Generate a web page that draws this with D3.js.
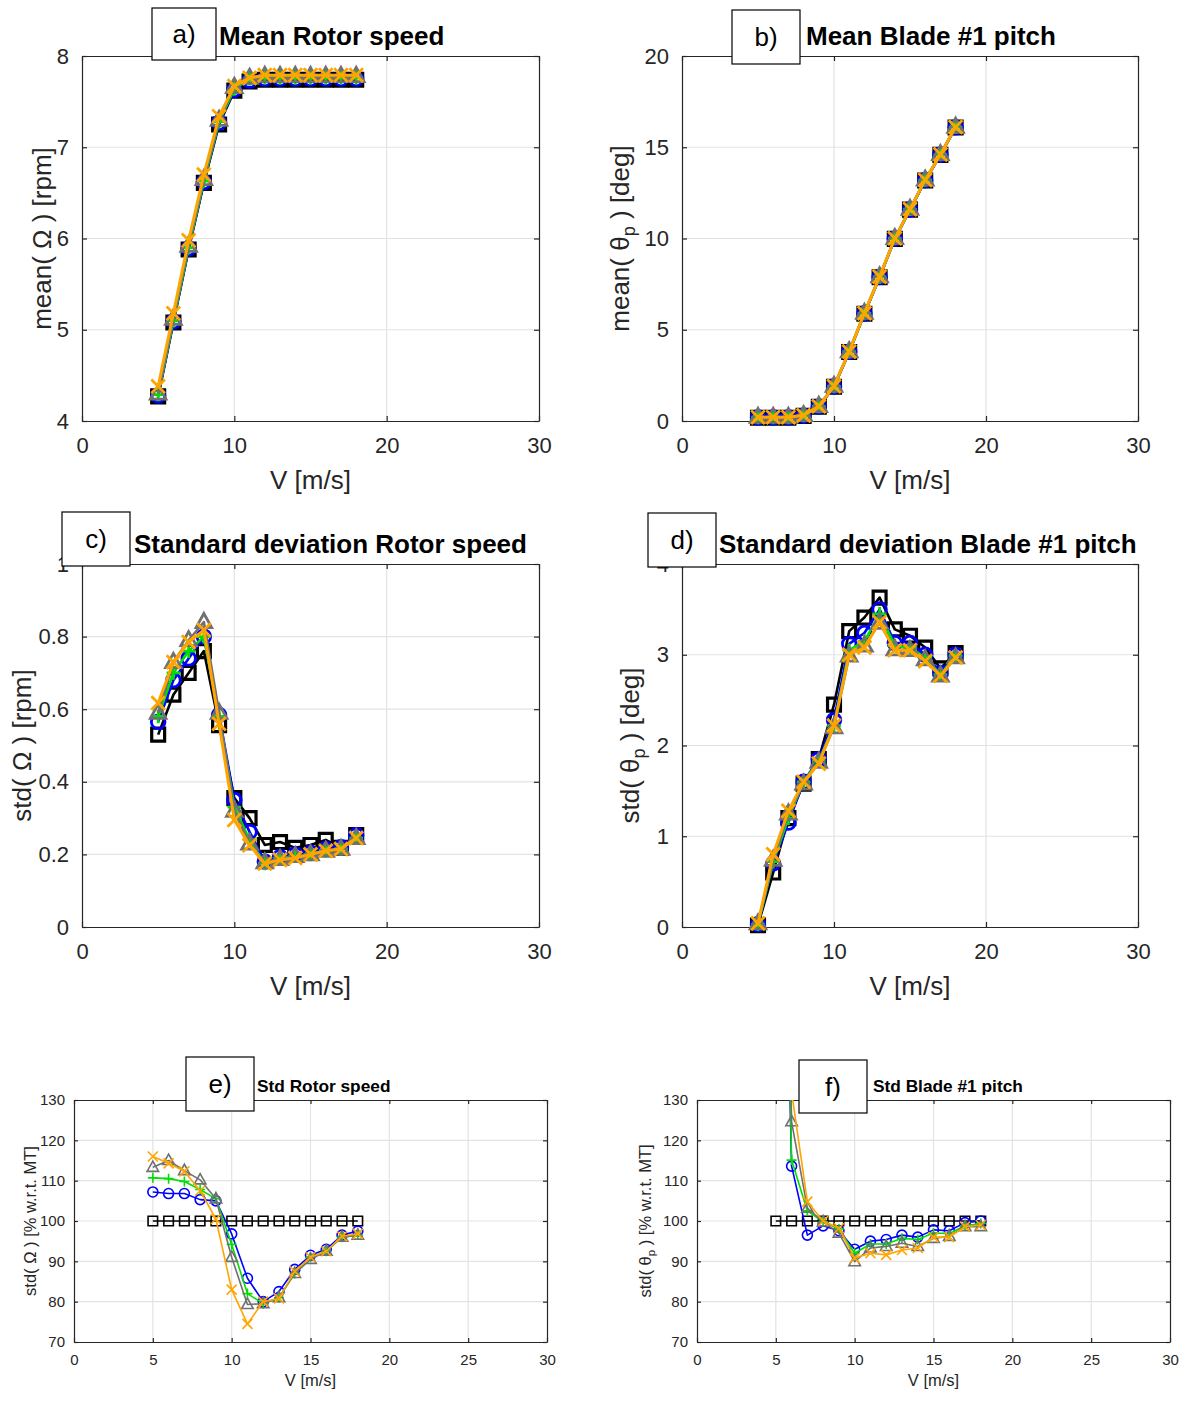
<!DOCTYPE html>
<html><head><meta charset="utf-8">
<script src="https://cdn.jsdelivr.net/npm/d3@7/dist/d3.min.js"></script>
<style>
body{margin:0;background:#fff}
svg{display:block}
text{font-family:"Liberation Sans",Arial,Helvetica,sans-serif}
</style>
</head><body>
<svg id="fig" width="1185" height="1404"></svg>
<script>
// ---------- DATA ----------
const windSpeed = [5,6,7,8,9,10,11,12,13,14,15,16,17,18];
const seriesKeys = ["MT","blue","green","gray","orange"];

// a) Mean rotor speed [rpm]
const meanRotor_MT     = [4.27,5.08,5.88,6.61,7.25,7.62,7.72,7.74,7.74,7.74,7.74,7.74,7.74,7.74];
const meanRotor_blue   = [4.28,5.09,5.89,6.62,7.27,7.63,7.73,7.75,7.75,7.75,7.75,7.75,7.75,7.75];
const meanRotor_green  = [4.29,5.10,5.90,6.63,7.28,7.64,7.75,7.76,7.76,7.76,7.76,7.76,7.76,7.76];
const meanRotor_gray   = [4.30,5.12,5.92,6.65,7.30,7.66,7.76,7.78,7.78,7.78,7.78,7.78,7.78,7.78];
const meanRotor_orange = [4.38,5.18,5.98,6.70,7.34,7.67,7.76,7.79,7.79,7.79,7.79,7.79,7.79,7.79];

// b) Mean blade #1 pitch [deg]
const meanPitch_MT     = [0.18,0.18,0.18,0.28,0.78,1.88,3.78,5.88,7.88,9.98,11.58,13.18,14.58,16.08];
const meanPitch_blue   = [0.19,0.19,0.19,0.29,0.79,1.89,3.79,5.89,7.89,9.99,11.59,13.19,14.59,16.09];
const meanPitch_green  = [0.20,0.20,0.20,0.30,0.80,1.90,3.80,5.90,7.90,10.00,11.60,13.20,14.60,16.10];
const meanPitch_gray   = [0.22,0.22,0.22,0.32,0.82,1.92,3.82,5.92,7.92,10.02,11.62,13.22,14.62,16.12];
const meanPitch_orange = [0.21,0.21,0.21,0.31,0.81,1.91,3.81,5.91,7.91,10.01,11.61,13.21,14.61,16.11];

// c) Std rotor speed [rpm]
const stdRotor_MT     = [0.53,0.64,0.70,0.76,0.556,0.355,0.30,0.226,0.234,0.218,0.226,0.24,0.218,0.253];
const stdRotor_blue   = [0.565,0.68,0.74,0.80,0.584,0.35,0.262,0.18,0.193,0.20,0.205,0.215,0.22,0.253];
const stdRotor_green  = [0.58,0.70,0.76,0.80,0.58,0.33,0.24,0.175,0.19,0.195,0.20,0.21,0.215,0.245];
const stdRotor_gray   = [0.59,0.73,0.79,0.84,0.59,0.32,0.23,0.178,0.187,0.195,0.20,0.21,0.215,0.245];
const stdRotor_orange = [0.617,0.73,0.785,0.818,0.56,0.295,0.225,0.175,0.185,0.19,0.20,0.21,0.215,0.245];

// d) Std blade #1 pitch [deg]
const stdPitch_MT     = [0.02,0.60,1.20,1.58,1.85,2.45,3.26,3.41,3.63,3.28,3.21,3.08,2.85,3.02];
const stdPitch_blue   = [0.03,0.70,1.15,1.60,1.85,2.28,3.12,3.24,3.50,3.13,3.13,3.00,2.80,3.00];
const stdPitch_green  = [0.03,0.72,1.20,1.60,1.83,2.22,3.05,3.15,3.45,3.10,3.08,2.97,2.78,2.99];
const stdPitch_gray   = [0.04,0.74,1.25,1.58,1.82,2.20,2.99,3.10,3.35,3.06,3.05,2.95,2.77,2.97];
const stdPitch_orange = [0.04,0.80,1.28,1.60,1.80,2.22,3.00,3.08,3.36,3.05,3.05,2.93,2.77,2.97];

// e) Std rotor speed [% w.r.t. MT]
const relRotor_MT     = [100,100,100,100,100,100,100,100,100,100,100,100,100,100];
const relRotor_blue   = [107.2,106.8,106.8,105.3,105.0,96.8,85.8,80.0,82.5,88.0,91.5,93.0,96.5,97.5];
const relRotor_green  = [110.7,110.5,109.8,107.8,105.5,94.2,82.0,79.5,81.0,87.0,91.0,92.5,96.0,96.5];
const relRotor_gray   = [113.3,115.0,112.5,110.2,105.5,91.0,79.3,79.5,81.0,87.0,90.5,92.5,96.0,96.5];
const relRotor_orange = [116.0,114.3,112.3,107.5,100.5,83.0,74.5,80.0,80.8,87.5,91.0,92.5,96.2,96.8];

// f) Std blade #1 pitch [% w.r.t. MT]
const relPitch_MT     = [100,100,100,100,100,100,100,100,100,100,100,100,100,100];
const relPitch_blue   = [280,113.6,96.5,98.8,97.6,93.0,95.0,95.4,96.5,96.0,97.8,97.6,99.6,100.0];
const relPitch_green  = [300,115.1,102.5,99.8,98.0,92.0,94.3,94.3,95.7,95.4,97.0,96.9,98.8,99.4];
const relPitch_gray   = [320,124.6,103.2,99.8,97.0,89.9,93.3,93.7,94.5,93.7,95.7,96.2,98.6,98.6];
const relPitch_orange = [340,132.0,104.8,100.0,98.2,90.8,92.0,91.6,92.8,93.3,96.0,96.0,98.6,99.0];

// axis ticks
const xTicksBig   = [0,10,20,30];
const xTicksSmall = [0,5,10,15,20,25,30];
const yTicksA = [4,5,6,7,8];
const yTicksB = [0,5,10,15,20];
const yTicksC = [0,0.2,0.4,0.6,0.8,1];
const yTicksD = [0,1,2,3,4];
const yTicksEF = [70,80,90,100,110,120,130];

// ---------- STYLE ----------
const seriesStyle = {
  MT:    {color:"#000000", marker:"square"},
  blue:  {color:"#0000ff", marker:"circle"},
  green: {color:"#00e000", marker:"plus"},
  gray:  {color:"#707070", marker:"triangle"},
  orange:{color:"#ffa500", marker:"x"}
};

function markerPath(type, r){
  switch(type){
    case "square": return `M${-r},${-r}h${2*r}v${2*r}h${-2*r}Z`;
    case "circle": return `M${r},0A${r},${r},0,1,1,${-r},0A${r},${r},0,1,1,${r},0Z`;
    case "plus": return `M${-r},0H${r}M0,${-r}V${r}`;
    case "triangle": return `M0,${-r*1.1}L${r},${r*0.7}L${-r},${r*0.7}Z`;
    case "x": return `M${-r},${-r}L${r},${r}M${-r},${r}L${r},${-r}`;
  }
}

const svg = d3.select("#fig");
const defs = svg.append("defs");

const panels = [
  {id:"a", box:[82,539,56,421], ydom:[4,8], yt:yTicksA, xt:xTicksBig, fmt:d3.format("d"),
   data:{MT:meanRotor_MT,blue:meanRotor_blue,green:meanRotor_green,gray:meanRotor_gray,orange:meanRotor_orange},
   big:true, ylabel:["mean( Ω ) [rpm]"], ylx:42,
   tag:{x:152,y:8,w:64,h:52,t:"a)"}, title:{x:219,y:45,t:"Mean Rotor speed"}},
  {id:"b", box:[682,1138,56,421], ydom:[0,20], yt:yTicksB, xt:xTicksBig, fmt:d3.format("d"),
   data:{MT:meanPitch_MT,blue:meanPitch_blue,green:meanPitch_green,gray:meanPitch_gray,orange:meanPitch_orange},
   big:true, ylabel:["mean( θ","p"," ) [deg]"], ylx:620,
   tag:{x:732,y:10,w:68,h:54,t:"b)"}, title:{x:806,y:45,t:"Mean Blade #1 pitch"}},
  {id:"c", box:[82,539,564,927], ydom:[0,1], yt:yTicksC, xt:xTicksBig, fmt:d3.format("~g"),
   data:{MT:stdRotor_MT,blue:stdRotor_blue,green:stdRotor_green,gray:stdRotor_gray,orange:stdRotor_orange},
   big:true, ylabel:["std( Ω ) [rpm]"], ylx:22,
   tag:{x:62,y:512,w:68,h:54,t:"c)"}, title:{x:134,y:553,t:"Standard deviation Rotor speed"}},
  {id:"d", box:[682,1138,564,927], ydom:[0,4], yt:yTicksD, xt:xTicksBig, fmt:d3.format("d"),
   data:{MT:stdPitch_MT,blue:stdPitch_blue,green:stdPitch_green,gray:stdPitch_gray,orange:stdPitch_orange},
   big:true, ylabel:["std( θ","p"," ) [deg]"], ylx:630,
   tag:{x:648,y:513,w:68,h:54,t:"d)"}, title:{x:719,y:553,t:"Standard deviation Blade #1 pitch"}},
  {id:"e", box:[74,547,1100,1342], ydom:[70,130], yt:yTicksEF, xt:xTicksSmall, fmt:d3.format("d"),
   data:{MT:relRotor_MT,blue:relRotor_blue,green:relRotor_green,gray:relRotor_gray,orange:relRotor_orange},
   big:false, ylabel:["std( Ω ) [% w.r.t. MT]"], ylx:30,
   tag:{x:186,y:1057,w:68,h:54,t:"e)"}, title:{x:257,y:1092,t:"Std Rotor speed"}},
  {id:"f", box:[697,1170,1100,1342], ydom:[70,130], yt:yTicksEF, xt:xTicksSmall, fmt:d3.format("d"),
   data:{MT:relPitch_MT,blue:relPitch_blue,green:relPitch_green,gray:relPitch_gray,orange:relPitch_orange},
   big:false, ylabel:["std( θ","p"," ) [% w.r.t. MT]"], ylx:645,
   tag:{x:799,y:1060,w:68,h:53,t:"f)"}, title:{x:873,y:1092,t:"Std Blade #1 pitch"}}
];

const axisColor = "#262626";
const gridColor = "#e3e3e3";

panels.forEach(p => {
  const [x0,x1,y0,y1] = p.box;
  const xs = d3.scaleLinear().domain([0,30]).range([x0,x1]);
  const ys = d3.scaleLinear().domain(p.ydom).range([y1,y0]);
  const g = svg.append("g");
  const tickFs = p.big ? 22 : 15;
  const labFs = p.big ? 26 : 16.5;
  const tickLen = p.big ? 5 : 4;

  // grid
  g.append("g").selectAll("line").data(p.xt.filter(v=>v>0&&v<30)).join("line")
    .attr("x1",d=>xs(d)).attr("x2",d=>xs(d)).attr("y1",y0).attr("y2",y1)
    .attr("stroke",gridColor).attr("stroke-width",1.2);
  g.append("g").selectAll("line").data(p.yt.filter(v=>v>p.ydom[0]&&v<p.ydom[1])).join("line")
    .attr("x1",x0).attr("x2",x1).attr("y1",d=>ys(d)).attr("y2",d=>ys(d))
    .attr("stroke",gridColor).attr("stroke-width",1.2);

  // axes with d3 axis generators (inner ticks)
  const axB = g.append("g").attr("transform",`translate(0,${y1})`)
    .call(d3.axisBottom(xs).tickValues(p.xt).tickSizeInner(-tickLen).tickSizeOuter(0).tickPadding(tickLen+ (p.big?11:8)).tickFormat(d3.format("d")));
  const axL = g.append("g").attr("transform",`translate(${x0},0)`)
    .call(d3.axisLeft(ys).tickValues(p.yt).tickSizeInner(-tickLen).tickSizeOuter(0).tickPadding(tickLen+(p.big?8:5)).tickFormat(p.fmt));
  const axT = g.append("g").attr("transform",`translate(0,${y0})`)
    .call(d3.axisTop(xs).tickValues(p.xt).tickSizeInner(-tickLen).tickSizeOuter(0).tickFormat(""));
  const axR = g.append("g").attr("transform",`translate(${x1},0)`)
    .call(d3.axisRight(ys).tickValues(p.yt).tickSizeInner(-tickLen).tickSizeOuter(0).tickFormat(""));
  [axB,axL,axT,axR].forEach(a=>{
    a.select(".domain").attr("stroke",axisColor).attr("stroke-width",1.2);
    a.selectAll(".tick line").attr("stroke",axisColor).attr("stroke-width",1.2);
    a.selectAll(".tick text").attr("fill",axisColor).attr("font-size",tickFs)
      .attr("font-family",'"Liberation Sans",Arial,sans-serif');
  });

  // clip
  defs.append("clipPath").attr("id","clip-"+p.id).append("rect")
    .attr("x",x0).attr("y",y0).attr("width",x1-x0).attr("height",y1-y0);

  const lw = p.big ? 2.6 : 1.6;
  const mr = p.big ? 6.8 : 5;
  const mw = p.big ? 2.8 : 1.6;
  const line = d3.line().x((d,i)=>xs(windSpeed[i])).y(d=>ys(d));
  seriesKeys.forEach(k => {
    const st = seriesStyle[k];
    const vals = p.data[k];
    g.append("path").attr("d",line(vals)).attr("fill","none")
      .attr("stroke",st.color).attr("stroke-width",k==="orange"&&p.big?3:lw)
      .attr("stroke-linejoin","round")
      .attr("clip-path",`url(#clip-${p.id})`);
    const pts = vals.map((v,i)=>({x:windSpeed[i],y:v})).filter(d=>d.y>=p.ydom[0]&&d.y<=p.ydom[1]);
    let r = mr;
    if (st.marker==="triangle") r = mr*1.15;
    if (st.marker==="square") r = mr*0.95;
    g.append("g").selectAll("path").data(pts).join("path")
      .attr("transform",d=>`translate(${xs(d.x)},${ys(d.y)})`)
      .attr("d",markerPath(st.marker,r))
      .attr("fill","none").attr("stroke",st.color)
      .attr("stroke-width",(st.marker==="square"&&p.big)?3.2:mw);
  });

  // x label
  g.append("text").attr("x",(x0+x1)/2).attr("y",y1 + (p.big?68:44))
    .attr("text-anchor","middle").attr("font-size",labFs).attr("fill",axisColor).text("V [m/s]");

  // y label
  const yl = g.append("text")
    .attr("transform",`translate(${p.ylx},${(y0+y1)/2}) rotate(-90)`)
    .attr("text-anchor","middle").attr("dominant-baseline","central")
    .attr("font-size",labFs).attr("fill",axisColor);
  if (p.ylabel.length===1) yl.text(p.ylabel[0]);
  else {
    yl.append("tspan").text(p.ylabel[0]);
    yl.append("tspan").attr("font-size",labFs*0.7).attr("dy",labFs*0.35).text(p.ylabel[1]);
    yl.append("tspan").attr("dy",-labFs*0.35).text(p.ylabel[2]);
  }

  // tag box and title
  g.append("rect").attr("x",p.tag.x).attr("y",p.tag.y).attr("width",p.tag.w).attr("height",p.tag.h)
    .attr("fill","#fff").attr("stroke","#000").attr("stroke-width",1.2);
  g.append("text").attr("x",p.tag.x+p.tag.w/2).attr("y",p.tag.y+p.tag.h/2)
    .attr("text-anchor","middle").attr("dominant-baseline","central")
    .attr("font-size",26).attr("fill","#000").attr("font-family",'"Open Sans",sans-serif').text(p.tag.t);
  g.append("text").attr("x",p.title.x).attr("y",p.title.y)
    .attr("font-size",p.big?26:17.3).attr("font-weight","bold").attr("fill","#000").text(p.title.t);
});
</script>
</body></html>
